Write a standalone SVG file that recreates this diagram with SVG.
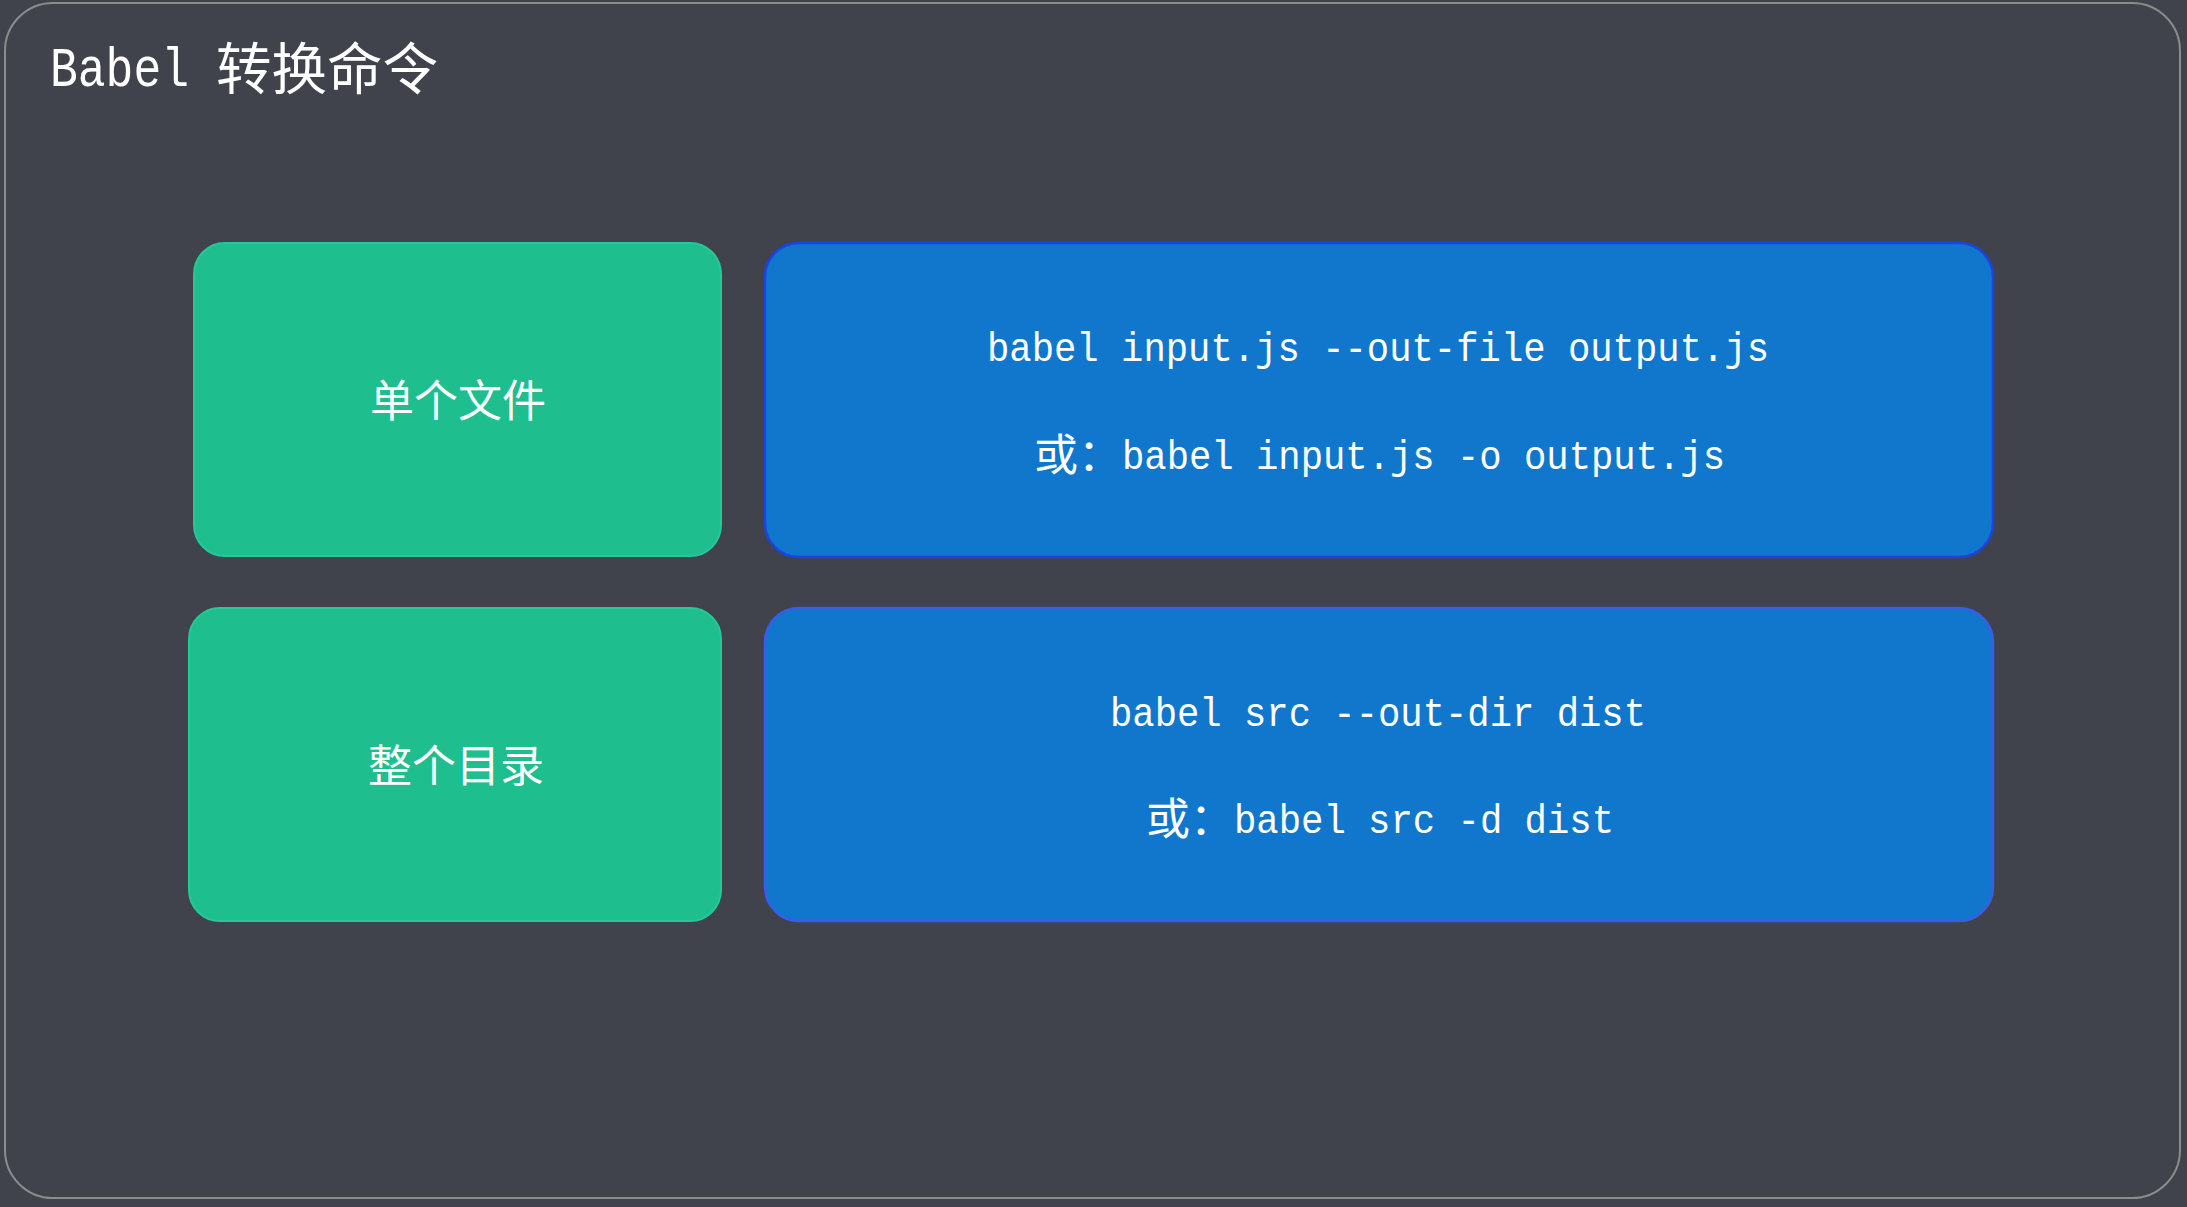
<svg xmlns="http://www.w3.org/2000/svg" width="2187" height="1207" viewBox="0 0 2187 1207">
  <style>
    .frame { fill: #40434c; stroke: #8c8c8c; stroke-width: 2; }
    .green { fill: #1fbe8f; stroke: #26c897; stroke-width: 2; }
    .blue1 { fill: #1177cc; stroke: #1c43e6; stroke-width: 2.5; }
    .blue2 { fill: #1177cc; stroke: #3a5ce6; stroke-width: 2.5; }
    .cjk { font-family: "Noto Sans CJK SC", "Noto Sans", sans-serif; fill: #ffffff; }
    .mono { font-family: "Liberation Mono", "DejaVu Sans Mono", monospace; fill: #ffffff; }
    .lbl { font-size: 44px; text-anchor: middle; }
    .cmd { font-size: 40px; }
  </style>
  <rect width="2187" height="1207" fill="#40434c"/>
  <g id="frame">
    <rect class="frame" x="5" y="3" width="2175" height="1195" rx="48" ry="48"/>
    <text class="mono" x="50" y="86" font-size="56" textLength="139" lengthAdjust="spacingAndGlyphs">Babel</text>
    <text class="cjk" x="216" y="89" font-size="55.5">转换命令</text>
  </g>
  <g id="connectors"></g>
  <g id="node-single-file">
    <rect class="green" x="194" y="243" width="527" height="313" rx="31" ry="31"/>
    <text class="cjk lbl" x="458" y="417">单个文件</text>
  </g>
  <g id="node-single-file-cmd">
    <rect class="blue1" x="765" y="243" width="1228" height="314" rx="34" ry="34"/>
    <text class="mono cmd" x="987" y="361" textLength="782" lengthAdjust="spacingAndGlyphs">babel input.js --out-file output.js</text>
    <text class="cjk" x="1034" y="470.5" font-size="44">或：</text>
    <text class="mono cmd" x="1122" y="469" textLength="603" lengthAdjust="spacingAndGlyphs">babel input.js -o output.js</text>
  </g>
  <g id="node-whole-dir">
    <rect class="green" x="189" y="608" width="532" height="313" rx="31" ry="31"/>
    <text class="cjk lbl" x="456" y="782">整个目录</text>
  </g>
  <g id="node-whole-dir-cmd">
    <rect class="blue2" x="765" y="608" width="1228" height="313" rx="34" ry="34"/>
    <text class="mono cmd" x="1110" y="726" textLength="536" lengthAdjust="spacingAndGlyphs">babel src --out-dir dist</text>
    <text class="cjk" x="1146" y="834.5" font-size="44">或：</text>
    <text class="mono cmd" x="1234" y="833" textLength="380" lengthAdjust="spacingAndGlyphs">babel src -d dist</text>
  </g>
</svg>
